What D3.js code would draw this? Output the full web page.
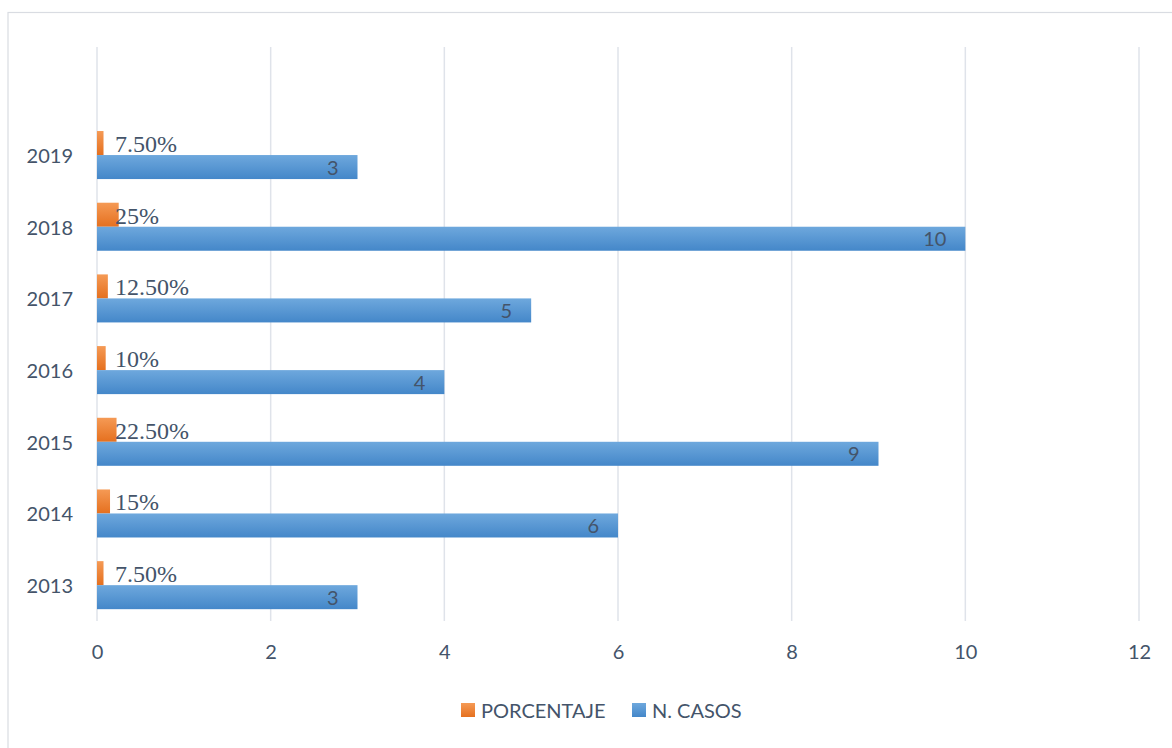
<!DOCTYPE html>
<html>
<head>
<meta charset="utf-8">
<script src="https://cdn.jsdelivr.net/npm/d3@7"></script>
<style>
html,body{margin:0;padding:0;background:#fff;}
svg{display:block;}
</style>
</head>
<body>
<svg id="chart" width="1172" height="748"></svg>
<script>
const years = ["2019","2018","2017","2016","2015","2014","2013"];
const casos = [3, 10, 5, 4, 9, 6, 3];
const porcentaje = [0.075, 0.25, 0.125, 0.10, 0.225, 0.15, 0.075];
const porcentajeLabels = ["7.50%","25%","12.50%","10%","22.50%","15%","7.50%"];
const xTicks = [0, 2, 4, 6, 8, 10, 12];
const seriesNames = ["PORCENTAJE", "N. CASOS"];

const svg = d3.select("#chart");
const textColor = "#44546A";
const font = "Lato, 'Open Sans', sans-serif";

const defs = svg.append("defs");
const gBlue = defs.append("linearGradient").attr("id","gBlue").attr("x1",0).attr("y1",0).attr("x2",0).attr("y2",1);
gBlue.append("stop").attr("offset","0%").attr("stop-color","#6EA8DD");
gBlue.append("stop").attr("offset","100%").attr("stop-color","#4487C9");
const gOrange = defs.append("linearGradient").attr("id","gOrange").attr("x1",0).attr("y1",0).attr("x2",0).attr("y2",1);
gOrange.append("stop").attr("offset","0%").attr("stop-color","#F59A55");
gOrange.append("stop").attr("offset","100%").attr("stop-color","#E5701F");

// frame
svg.append("rect").attr("x",8).attr("y",12.5).attr("width",1180).attr("height",760)
  .attr("fill","none").attr("stroke","#D9DCE2").attr("stroke-width",1.2);

const x = d3.scaleLinear().domain([0,12]).range([97,1139]);
const plotTop = 47, plotBottom = 621;
const y = d3.scaleBand().domain(years).range([119.2, plotBottom]).paddingInner(0.33).paddingOuter(0.165);
const sub = d3.scaleBand().domain(seriesNames).range([0, y.bandwidth()]);

// gridlines
svg.append("g").selectAll("line").data(xTicks).join("line")
  .attr("x1", d => x(d)).attr("x2", d => x(d))
  .attr("y1", plotTop).attr("y2", plotBottom)
  .attr("stroke", "#DFE3EA").attr("stroke-width", 1.5);

// x tick labels
const xAxis = d3.axisBottom(x).tickValues(xTicks).tickSize(0).tickPadding(0);
const gx = svg.append("g").attr("transform", `translate(0,${plotBottom})`).call(xAxis);
gx.select(".domain").remove();
gx.selectAll("text").attr("y", 31).attr("dy","0.35em")
  .attr("font-family", font).attr("font-size", 20).attr("fill", textColor);

// y labels
const yAxis = d3.axisLeft(y).tickSize(0).tickPadding(24);
const gy = svg.append("g").attr("transform", `translate(${x(0)},0)`).call(yAxis);
gy.select(".domain").remove();
gy.selectAll("text").attr("font-family", font).attr("font-size", 20).attr("fill", textColor).attr("dy","0.4em");

// bars
const rows = years.map((yr,i) => ({yr, c: casos[i], p: porcentaje[i], pl: porcentajeLabels[i]}));

svg.append("g").selectAll("rect").data(rows).join("rect")
  .attr("x", x(0)).attr("y", d => y(d.yr) + sub("PORCENTAJE"))
  .attr("width", d => x(d.p) - x(0)).attr("height", sub.bandwidth())
  .attr("fill", "url(#gOrange)");

svg.append("g").selectAll("rect").data(rows).join("rect")
  .attr("x", x(0)).attr("y", d => y(d.yr) + sub("N. CASOS"))
  .attr("width", d => x(d.c) - x(0)).attr("height", sub.bandwidth())
  .attr("fill", "url(#gBlue)");

// labels
svg.append("g").selectAll("text").data(rows).join("text")
  .attr("x", x(0) + 18)
  .attr("y", d => y(d.yr) + sub("PORCENTAJE") + sub.bandwidth() - 3)
  .attr("font-family", "'Liberation Serif', 'Times New Roman', serif")
  .attr("font-size", 24).attr("fill", textColor)
  .text(d => d.pl);

svg.append("g").selectAll("text").data(rows).join("text")
  .attr("x", d => x(d.c) - 19)
  .attr("y", d => y(d.yr) + sub("N. CASOS") + sub.bandwidth()/2)
  .attr("dy", "0.38em").attr("text-anchor","end")
  .attr("font-family", font).attr("font-size", 20).attr("fill", textColor)
  .text(d => d.c);

// legend
const legend = svg.append("g");
const legendItems = [
  {name: "PORCENTAJE", fill: "url(#gOrange)", x: 461},
  {name: "N. CASOS", fill: "url(#gBlue)", x: 632}
];
legendItems.forEach(it => {
  legend.append("rect").attr("x", it.x).attr("y", 703).attr("width", 14).attr("height", 14).attr("fill", it.fill);
  legend.append("text").attr("x", it.x + 20).attr("y", 718)
    .attr("font-family", font).attr("font-size", 20).attr("fill", textColor).text(it.name);
});
</script>
</body>
</html>
